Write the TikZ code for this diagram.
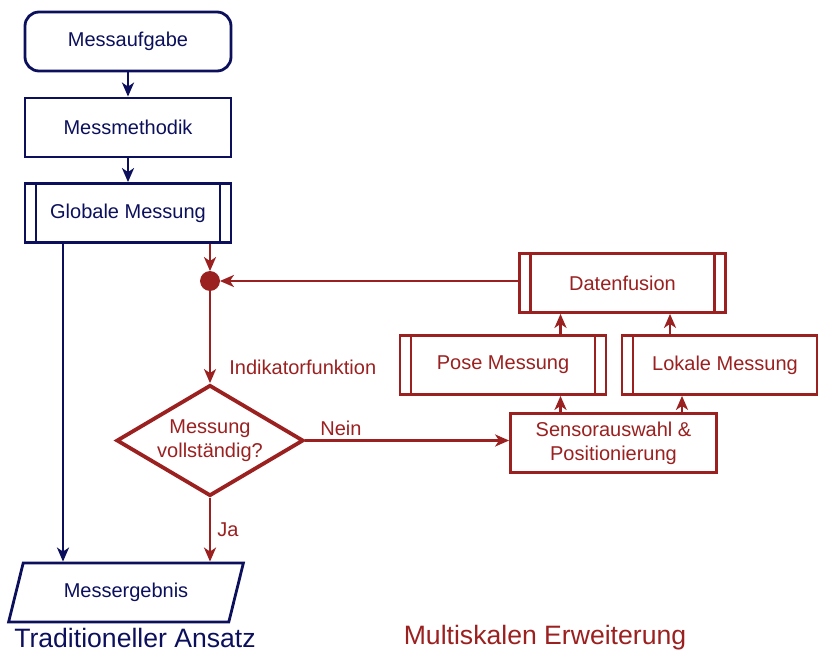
\documentclass[tikz,border=0pt]{standalone}
\usepackage{fontspec}
\setmainfont{Liberation Sans}
\usepackage{xcolor}
\definecolor{Navy}{RGB}{12,16,92}
\definecolor{Red}{RGB}{155,32,32}
\definecolor{White}{RGB}{255,255,255}
\usepackage{tikz}
\usetikzlibrary{shapes.geometric, arrows.meta}

\begin{document}
\begin{tikzpicture}[x=0.5pt, y=-0.5pt,
		box/.style={draw=#1, text=#1, fill=White, line width=1.4pt, minimum width=103pt, minimum height=29.5pt, inner sep=0pt, font=\fontsize{10}{12}\selectfont, align=center},
		subbox/.style={box=#1, path picture={
				\draw[draw=#1, line width=1.4pt] ([xshift=5.5pt]path picture bounding box.south west) -- ([xshift=5.5pt]path picture bounding box.north west);
				\draw[draw=#1, line width=1.4pt] ([xshift=-5.5pt]path picture bounding box.south east) -- ([xshift=-5.5pt]path picture bounding box.north east);}},
		flow/.style={draw=#1, line width=1.2pt, -{Stealth[length=7pt, width=6pt, inset=2pt]}},
		label/.style={text=#1, font=\fontsize{10}{12}\selectfont, inner sep=0pt}]
	
	\useasboundingbox (0,0) rectangle (818,652);
	
	% Traditional path
	\node[box=Navy, rounded corners=7pt] (aufgabe) at (128,41.5) {Messaufgabe};
	\node[box=Navy] (methodik) at (128,127.5) {Messmethodik};
	\node[subbox=Navy] (global) at (128,213) {Globale Messung};
	\node[trapezium, trapezium left angle=64.6, trapezium right angle=115.4, trapezium stretches=true, draw=Navy, text=Navy, line width=1.4pt, minimum width=118pt, minimum height=29.5pt, inner sep=0pt, font=\fontsize{10}{12}\selectfont] (ergebnis) at (126,592.5) {Messergebnis};
	
	% Decision
	\node[circle, fill=Red, draw=Red, minimum size=9.5pt, inner sep=0pt] (junction) at (210,281) {};
	\node[diamond, draw=Red, text=Red, line width=1.9pt, minimum width=93.5pt, minimum height=55.5pt, aspect=1.68, inner sep=0pt, align=center, font=\fontsize{10}{12}\selectfont] (check) at (210,440.5) {Messung\\vollständig?};
	
	% Multiscale extension
	\node[subbox=Red] (fusion) at (622.5,283) {Datenfusion};
	\node[subbox=Red] (pose) at (503,365) {Pose Messung};
	\node[subbox=Red] (lokal) at (725,365) {Lokale Messung};
	\node[box=Red, align=center] (sensor) at (613.5,443) {Sensorauswahl \&\\Positionierung};
	
	% Columns
	\coordinate (colblue) at (63,0);
	\coordinate (colred) at (210,0);
	\coordinate (colpose) at (560.5,0);
	\coordinate (colfuseA) at (670,0);
	\coordinate (colfuseB) at (682,0);
	
	% Connectors
	\draw[flow=Navy] (aufgabe) -- (methodik);
	\draw[flow=Navy] (methodik) -- (global);
	\draw[flow=Navy] (global.south -| colblue) -- (ergebnis.north -| colblue);
	\draw[flow=Red] (global.south -| colred) -- (junction);
	\draw[flow=Red] (fusion.west |- junction) -- (junction);
	\draw[flow=Red] (junction) -- (check.north);
	\draw[flow=Red] (check.east) -- (check.east -| sensor.west);
	\draw[flow=Red] (check.south) -- (ergebnis.north -| check.south);
	\draw[flow=Red] (sensor.north -| colpose) -- (pose.south -| colpose);
	\draw[flow=Red] (sensor.north -| colfuseB) -- (lokal.south -| colfuseB);
	\draw[flow=Red] (pose.north -| colpose) -- (fusion.south -| colpose);
	\draw[flow=Red] (lokal.north -| colfuseA) -- (fusion.south -| colfuseA);
	
	% Labels
	\node[label=Red, anchor=west] (indikator) at (229,367) {Indikatorfunktion};
	\node[label=Red, anchor=west] (nein) at (320,428) {Nein};
	\node[label=Red, anchor=west] (ja) at (217,530) {Ja};
	\node[text=Navy, font=\fontsize{13.3}{15}\selectfont, inner sep=0pt] (traditionell) at (135,638) {Traditioneller Ansatz};
	\node[text=Red, font=\fontsize{13.3}{15}\selectfont, inner sep=0pt] (multiskalen) at (545,638) {Multiskalen Erweiterung};
	
\end{tikzpicture}
\end{document}
